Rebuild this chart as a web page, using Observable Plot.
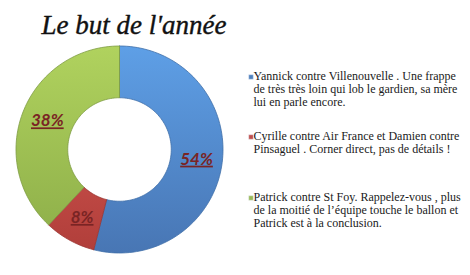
<!DOCTYPE html>
<html>
<head>
<meta charset="utf-8">
<script src="https://cdn.jsdelivr.net/npm/d3@7"></script>
<script src="https://cdn.jsdelivr.net/npm/@observablehq/plot@0.6"></script>
<style>
  html, body { margin: 0; padding: 0; background: #fff; }
  #chart svg { display: block; }
  .pct text { text-decoration: underline; }
</style>
</head>
<body>
<div id="chart"></div>
<script>
const title = "Le but de l'année";
const categories = ["Yannick", "Cyrille", "Patrick"];
const values = [54, 8, 38];
const pctLabels = ["54%", "8%", "38%"];
const legendTexts = [
  "Yannick contre Villenouvelle . Une frappe\nde très très loin qui lob le gardien, sa mère\nlui en parle encore.",
  "Cyrille contre Air France et Damien contre\nPinsaguel . Corner direct, pas de détails !",
  "Patrick contre St Foy. Rappelez-vous , plus\nde la moitié de l’équipe touche le ballon et\nPatrick est à la conclusion."
];
const baseColors = ["#4F81BD", "#C0504D", "#9BBB59"];
const gradStops = [["#5e9fe6", "#4876b4"], ["#de5e58", "#b03e3a"], ["#b0d25e", "#8cad48"]];
const edgeColors = ["#3f6ea8", "#9a3532", "#7e9c42"];

const innerFrac = 0.5;
const arcs = d3.pie().sort(null)(values);
const steps = 90;
const poly = [];
arcs.forEach((a, i) => {
  const n = Math.max(4, Math.ceil(steps * (a.endAngle - a.startAngle) / Math.PI));
  for (let k = 0; k <= n; k++) {
    const t = a.startAngle + (a.endAngle - a.startAngle) * k / n;
    poly.push({i, x: Math.sin(t), y: Math.cos(t)});
  }
  for (let k = n; k >= 0; k--) {
    const t = a.startAngle + (a.endAngle - a.startAngle) * k / n;
    poly.push({i, x: innerFrac * Math.sin(t), y: innerFrac * Math.cos(t)});
  }
  const t0 = a.startAngle;
  poly.push({i, x: Math.sin(t0), y: Math.cos(t0)});
});
const labelPts = arcs.map((a, i) => {
  const m = (a.startAngle + a.endAngle) / 2, r = (1 + innerFrac) / 2;
  return {i, x: r * Math.sin(m), y: r * Math.cos(m), label: pctLabels[i]};
});

const legendTop = [70, 130, 191];

const plot = Plot.plot({
  width: 470,
  height: 275,
  margin: 0,
  x: {domain: [-1, 1], range: [15.5, 222.5], axis: null},
  y: {domain: [-1, 1], range: [252.5, 45.5], axis: null},
  color: {type: "identity"},
  style: {background: "#fff", overflow: "visible"},
  marks: [
    Plot.line(poly, {x: "x", y: "y", z: "i", fill: d => `url(#grad${d.i})`, stroke: d => edgeColors[d.i], strokeWidth: 0.8, curve: "linear"}),
    Plot.text(labelPts, {x: "x", y: "y", text: "label", fill: "#7a2424", fontFamily: "Lato", fontWeight: "bold", fontStyle: "italic", fontSize: 17, className: "pct"}),
    Plot.text([title], {frameAnchor: "top-left", dx: 133.5, dy: 25, textAnchor: "middle", lineAnchor: "middle", fontFamily: "Liberation Serif", fontStyle: "italic", fontWeight: "normal", fontSize: 27, fill: "#111", stroke: "#111", strokeWidth: 0.4}),
    ...legendTexts.map((t, i) => Plot.text([t], {frameAnchor: "top-left", dx: 253, dy: legendTop[i], textAnchor: "start", lineAnchor: "top", lineHeight: 1.1, fontFamily: "Liberation Serif", fontSize: 12, fill: "#1a1a1a"})),
    ...legendTexts.map((t, i) => Plot.dot([t], {frameAnchor: "top-left", dx: 250.5, dy: legendTop[i] + 6.5, symbol: "square", r: 2.6, fill: baseColors[i], stroke: "#e8eef8", strokeWidth: 0.5}))
  ]
});

const svgNS = "http://www.w3.org/2000/svg";
const defs = document.createElementNS(svgNS, "defs");
gradStops.forEach((s, i) => {
  const g = document.createElementNS(svgNS, "linearGradient");
  g.setAttribute("id", `grad${i}`);
  g.setAttribute("gradientUnits", "userSpaceOnUse");
  g.setAttribute("x1", "0"); g.setAttribute("y1", "46");
  g.setAttribute("x2", "0"); g.setAttribute("y2", "252");
  [[0, s[0]], [1, s[1]]].forEach(([o, c]) => {
    const st = document.createElementNS(svgNS, "stop");
    st.setAttribute("offset", o); st.setAttribute("stop-color", c);
    g.appendChild(st);
  });
  defs.appendChild(g);
});
plot.insertBefore(defs, plot.firstChild);
document.getElementById("chart").appendChild(plot);
</script>
</body>
</html>
